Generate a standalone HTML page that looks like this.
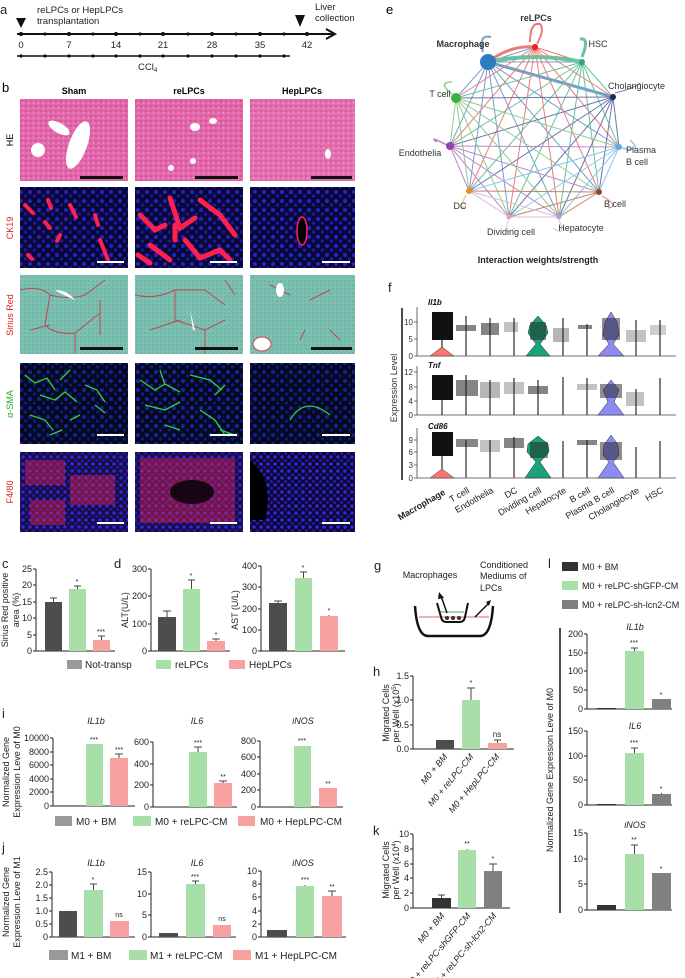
<!DOCTYPE html>
<html><head><meta charset="utf-8"><style>
html,body{margin:0;padding:0;background:#fff}
svg{display:block;font-family:"Liberation Sans",Arial,sans-serif}
</style></head><body>
<svg width="685" height="978" viewBox="0 0 685 978" xmlns="http://www.w3.org/2000/svg">
<defs>
<pattern id="nuc" width="9" height="9" patternUnits="userSpaceOnUse"><circle cx="3" cy="3" r="2" fill="#2a2ae0"/><circle cx="7.5" cy="7" r="1.6" fill="#1f1fb8"/></pattern>
<pattern id="nuc2" width="7" height="7" patternUnits="userSpaceOnUse"><circle cx="2" cy="2" r="1.8" fill="#3030ff"/><circle cx="5.5" cy="5.5" r="1.5" fill="#2020c0"/></pattern>
<pattern id="he" width="5" height="5" patternUnits="userSpaceOnUse"><rect width="5" height="5" fill="#e468aa"/><circle cx="1" cy="1" r="0.8" fill="#b8408f"/><circle cx="3.5" cy="3" r="0.7" fill="#f5a0cc"/><circle cx="4" cy="0.8" r="0.5" fill="#c050a0"/></pattern>
<pattern id="sr" width="4" height="4" patternUnits="userSpaceOnUse"><rect width="4" height="4" fill="#7cc0b2"/><circle cx="1" cy="1" r="0.8" fill="#5fa898"/></pattern>
</defs>

<!-- ===== a ===== -->
<g font-size="9.5" fill="#222">
<text x="0" y="14" font-size="13">a</text>
<polygon points="16,18 26,18 21,28" fill="#111"/>
<polygon points="295,15 305,15 300,27" fill="#111"/>
<text x="37" y="13">reLPCs or HepLPCs</text>
<text x="37" y="24">transplantation</text>
<text x="315" y="10">Liver</text>
<text x="315" y="21">collection</text>
<line x1="17" y1="34" x2="333" y2="34" stroke="#111" stroke-width="2"/>
<polyline points="326,29 335,34 326,39" fill="none" stroke="#111" stroke-width="2"/>
<g fill="#111"><circle cx="21" cy="34" r="2"/><circle cx="45" cy="34" r="1.6"/><circle cx="69" cy="34" r="2"/><circle cx="93" cy="34" r="1.6"/><circle cx="116" cy="34" r="2"/><circle cx="140" cy="34" r="1.6"/><circle cx="163" cy="34" r="2"/><circle cx="188" cy="34" r="1.6"/><circle cx="212" cy="34" r="2"/><circle cx="236" cy="34" r="1.6"/><circle cx="260" cy="34" r="2"/><circle cx="284" cy="34" r="1.6"/><circle cx="307" cy="34" r="2"/></g>
<g text-anchor="middle"><text x="21" y="48">0</text><text x="69" y="48">7</text><text x="116" y="48">14</text><text x="163" y="48">21</text><text x="212" y="48">28</text><text x="260" y="48">35</text><text x="307" y="48">42</text></g>
<line x1="17" y1="56" x2="290" y2="56" stroke="#111" stroke-width="1.5"/>
<g fill="#111"><circle cx="21" cy="56" r="1.6"/><circle cx="45" cy="56" r="1.6"/><circle cx="69" cy="56" r="1.6"/><circle cx="93" cy="56" r="1.6"/><circle cx="116" cy="56" r="1.6"/><circle cx="140" cy="56" r="1.6"/><circle cx="163" cy="56" r="1.6"/><circle cx="188" cy="56" r="1.6"/><circle cx="212" cy="56" r="1.6"/><circle cx="236" cy="56" r="1.6"/><circle cx="260" cy="56" r="1.6"/><circle cx="284" cy="56" r="1.6"/></g>
<text x="138" y="70">CCl<tspan font-size="6" dy="2">4</tspan></text>
</g>

<!-- ===== b ===== -->
<g font-size="9">
<text x="2" y="92" font-size="13">b</text>
<g font-weight="bold" text-anchor="middle"><text x="74" y="94">Sham</text><text x="189" y="94">reLPCs</text><text x="302" y="94">HepLPCs</text></g>
<g text-anchor="middle">
<text transform="translate(13,140) rotate(-90)">HE</text>
<text transform="translate(13,228) rotate(-90)" fill="#e02020">CK19</text>
<text transform="translate(13,315) rotate(-90)" fill="#e02020">Sirius  Red</text>
<text transform="translate(13,404) rotate(-90)" fill="#20b020">α-SMA</text>
<text transform="translate(13,492) rotate(-90)" fill="#e02020">F4/80</text>
</g>
<!-- HE -->
<rect x="20" y="99" width="108" height="82" fill="url(#he)"/>
<rect x="135" y="99" width="108" height="82" fill="url(#he)"/>
<rect x="250" y="99" width="105" height="82" fill="url(#he)" opacity="0.95"/>
<ellipse cx="59" cy="128" rx="12" ry="5" transform="rotate(30 59 128)" fill="#fff"/>
<ellipse cx="78" cy="145" rx="9" ry="25" transform="rotate(20 78 145)" fill="#fff"/>
<ellipse cx="38" cy="150" rx="7" ry="7" fill="#fff"/>
<ellipse cx="195" cy="127" rx="5" ry="4" fill="#fff"/><ellipse cx="213" cy="121" rx="4" ry="3" fill="#fff"/><ellipse cx="193" cy="161" rx="3" ry="3" fill="#fff"/><ellipse cx="171" cy="168" rx="3" ry="3" fill="#fff"/>
<ellipse cx="328" cy="154" rx="3" ry="5" fill="#fff"/>
<rect x="80" y="176" width="43" height="3" fill="#111"/><rect x="195" y="176" width="43" height="3" fill="#111"/><rect x="311" y="176" width="41" height="3" fill="#111"/>
<!-- CK19 -->
<rect x="20" y="187" width="108" height="81" fill="#0a0838"/><rect x="20" y="187" width="108" height="81" fill="url(#nuc)" opacity="0.8"/>
<rect x="135" y="187" width="108" height="81" fill="#0a0838"/><rect x="135" y="187" width="108" height="81" fill="url(#nuc)" opacity="0.8"/>
<rect x="250" y="187" width="105" height="81" fill="#0a0838"/><rect x="250" y="187" width="105" height="81" fill="url(#nuc)" opacity="0.85"/>
<g stroke="#ff2050" stroke-linecap="round" fill="none">
<path d="M25 205 l8 8 M48 200 l3 8 M70 205 l6 12 M45 222 l5 6 M60 235 l-3 6 M95 215 l3 10 M100 240 l8 20 M28 255 l4 4" stroke-width="4"/>
<path d="M140 215 l15 15 l10 -5 M170 198 l10 30 l15 -10 M200 200 l20 15 l15 20 M150 245 l20 15 M185 240 l15 18 l20 -8 M138 255 l12 8 M220 250 l10 10 M175 225 l0 15" stroke-width="5"/>
</g>
<ellipse cx="302" cy="231" rx="5" ry="14" fill="#000" stroke="#ff2070" stroke-width="1.5"/>
<rect x="97" y="261" width="27" height="2" fill="#fff"/><rect x="210" y="261" width="27" height="2" fill="#fff"/><rect x="322" y="261" width="28" height="2" fill="#fff"/>
<!-- Sirius -->
<rect x="20" y="275" width="108" height="79" fill="url(#sr)"/>
<rect x="135" y="275" width="108" height="79" fill="url(#sr)"/>
<rect x="250" y="275" width="105" height="79" fill="url(#sr)"/>
<g stroke="#d03040" stroke-width="1" fill="none" opacity="0.85">
<path d="M20 290 q20 -5 30 5 q20 5 35 0 l20 -15 M50 295 l-5 30 q10 10 30 8 l25 -20 M75 333 l0 20 M30 330 l20 -5 M100 300 l0 35"/>
<path d="M135 295 q20 5 40 -5 l30 0 l20 15 M175 290 l0 30 l30 10 l20 -10 M150 330 l30 -10 M205 330 l0 24 M225 280 l10 15"/>
<path d="M270 285 l20 10 M310 300 l20 -10 M330 330 l10 10 M300 340 l5 -10"/>
</g>
<path d="M55 290 q12 0 20 10 q-12 -5 -20 -10z" fill="#fff"/><path d="M190 310 l5 20 l-2 0z" fill="#fff"/>
<ellipse cx="262" cy="344" rx="9" ry="7" fill="#fff" stroke="#d04050"/><ellipse cx="280" cy="290" rx="4" ry="7" fill="#fff"/>
<rect x="80" y="347" width="43" height="3" fill="#111"/><rect x="195" y="347" width="43" height="3" fill="#111"/><rect x="311" y="347" width="41" height="3" fill="#111"/>
<!-- a-SMA -->
<rect x="20" y="363" width="108" height="81" fill="#040a20"/><rect x="20" y="363" width="108" height="81" fill="url(#nuc)" opacity="0.6"/>
<rect x="135" y="363" width="108" height="81" fill="#040a20"/><rect x="135" y="363" width="108" height="81" fill="url(#nuc)" opacity="0.7"/>
<rect x="250" y="363" width="105" height="81" fill="#040a20"/><rect x="250" y="363" width="105" height="81" fill="url(#nuc)" opacity="0.6"/>
<g stroke="#30d040" stroke-width="1.3" fill="none">
<path d="M25 375 l10 8 l12 -5 l8 12 M40 395 l15 5 l10 -8 l12 10 M60 380 l10 -10 M85 385 l12 5 l8 12 M30 415 l15 5 l8 10 M70 420 l10 -5 M95 405 l10 8 M50 435 l12 -5"/>
<path d="M140 380 l15 10 l10 -6 l15 8 M160 370 l5 15 M190 375 l20 5 l12 10 M145 405 l20 5 l15 -8 M200 410 l15 10 l10 15 M165 425 l15 5 M215 395 l10 -10 M220 430 l15 5"/>
<path d="M290 420 q15 -25 40 -5"/>
</g>
<rect x="97" y="434" width="27" height="2" fill="#fff"/><rect x="210" y="434" width="27" height="2" fill="#fff"/><rect x="322" y="434" width="28" height="2" fill="#fff"/>
<!-- F4/80 -->
<rect x="20" y="452" width="108" height="80" fill="#1a0c40"/><rect x="20" y="452" width="108" height="80" fill="url(#nuc2)" opacity="0.8"/>
<rect x="135" y="452" width="108" height="80" fill="#1a0c40"/><rect x="135" y="452" width="108" height="80" fill="url(#nuc2)" opacity="0.8"/>
<rect x="250" y="452" width="105" height="80" fill="#100830"/><rect x="250" y="452" width="105" height="80" fill="url(#nuc2)" opacity="0.85"/>
<g fill="#e02050" opacity="0.45"><rect x="25" y="460" width="40" height="25"/><rect x="70" y="475" width="45" height="30"/><rect x="30" y="500" width="35" height="25"/><rect x="140" y="458" width="95" height="65"/></g>
<ellipse cx="192" cy="492" rx="22" ry="12" fill="#000" opacity="0.8"/>
<path d="M250 460 q25 20 15 60 l-15 0z" fill="#000"/>
<rect x="97" y="522" width="27" height="2" fill="#fff"/><rect x="210" y="522" width="27" height="2" fill="#fff"/><rect x="322" y="522" width="28" height="2" fill="#fff"/>
</g>

<!-- ===== e ===== -->
<g font-size="9">
<text x="386" y="14" font-size="13">e</text>
<g fill="none" stroke-width="1" opacity="0.7">
<g stroke="#3a78b5"><path d="M488 62L535 47M488 62L582 62M488 62L613 97M488 62L619 147M488 62L599 192M488 62L559 217M488 62L509 217M488 62L469 191M488 62L450 146M488 62L456 98"/><path d="M488 62L613 97" stroke-width="3"/></g>
<g stroke="#e8423f"><path d="M535 47L582 62M535 47L613 97M535 47L619 147M535 47L599 192M535 47L559 217M535 47L509 217M535 47L469 191M535 47L450 146M535 47L456 98"/><path d="M535 47Q510 45 488 62" stroke-width="3"/></g>
<g stroke="#2ea877"><path d="M582 62L613 97M582 62L619 147M582 62L599 192M582 62L559 217M582 62L509 217M582 62L469 191M582 62L450 146M582 62L456 98"/><path d="M582 62Q535 52 488 62" stroke-width="4"/></g>
<g stroke="#2c3e80"><path d="M613 97L619 147M613 97L599 192M613 97L559 217M613 97L509 217M613 97L469 191M613 97L450 146M613 97L456 98"/></g>
<g stroke="#5cb85c"><path d="M456 98L619 147M456 98L599 192M456 98L559 217M456 98L509 217M456 98L469 191M456 98L450 146"/></g>
<g stroke="#9b59b6"><path d="M450 146L619 147M450 146L599 192M450 146L559 217M450 146L509 217M450 146L469 191"/></g>
<g stroke="#5dade2"><path d="M619 147L599 192M619 147L559 217M619 147L509 217M619 147L469 191"/></g>
<g stroke="#a0522d"><path d="M599 192L559 217M599 192L509 217M599 192L469 191"/></g>
<g stroke="#c8a2c8"><path d="M559 217L509 217M559 217L469 191M509 217L469 191"/></g>
<path d="M483 52 q-5 -18 8 -15" stroke="#3a78b5" stroke-width="2"/>
<path d="M530 42 q0 -20 10 -18 q5 5 -3 20" stroke="#e8423f" stroke-width="2"/>
<path d="M582 57 q8 -20 -2 -18" stroke="#2ea877" stroke-width="3"/>
<path d="M452 94 q-15 -12 0 -12" stroke="#5cb85c" stroke-width="1.5"/>
<path d="M447 145 q-20 -10 -10 -3" stroke="#9b59b6" stroke-width="1.5"/>
<path d="M622 148 q22 5 8 -8" stroke="#5dade2" stroke-width="1.5"/>
<path d="M602 196 q18 10 6 12" stroke="#a0522d" stroke-width="1"/>
<path d="M466 195 q-10 20 0 10" stroke="#e8a040" stroke-width="1"/>
<path d="M509 220 q-8 18 6 8" stroke="#e89fc8" stroke-width="1"/>
<path d="M559 220 q8 18 -6 8" stroke="#c8a2c8" stroke-width="1"/>
<path d="M615 93 q20 -5 25 -10" stroke="#2c3e80" stroke-width="1"/>
</g>
<circle cx="488" cy="62" r="8" fill="#2f7bbf"/>
<circle cx="535" cy="47" r="3" fill="#e82020"/>
<circle cx="582" cy="62" r="3" fill="#2ea877"/>
<circle cx="613" cy="97" r="3" fill="#1a2a6a"/>
<circle cx="619" cy="147" r="3" fill="#5dade2"/>
<circle cx="599" cy="192" r="3" fill="#8b4a2a"/>
<circle cx="559" cy="217" r="2.5" fill="#b8a0d0"/>
<circle cx="509" cy="217" r="2.5" fill="#e89fc8"/>
<circle cx="469" cy="191" r="3" fill="#f08a20"/>
<circle cx="450" cy="146" r="4" fill="#8e44ad"/>
<circle cx="456" cy="98" r="5" fill="#3cb043"/>
<g fill="#333">
<text x="536" y="21" text-anchor="middle" font-weight="bold">reLPCs</text>
<text x="463" y="47" text-anchor="middle" font-weight="bold">Macrophage</text>
<text x="598" y="47" text-anchor="middle">HSC</text>
<text x="608" y="89">Cholangiocyte</text>
<text x="440" y="97" text-anchor="middle">T cell</text>
<text x="420" y="156" text-anchor="middle">Endothelia</text>
<text x="626" y="153">Plasma</text><text x="626" y="165">B cell</text>
<text x="460" y="209" text-anchor="middle">DC</text>
<text x="615" y="207" text-anchor="middle">B cell</text>
<text x="511" y="235" text-anchor="middle">Dividing cell</text>
<text x="581" y="231" text-anchor="middle">Hepatocyte</text>
<text x="538" y="263" text-anchor="middle" font-weight="bold" fill="#222">Interaction weights/strength</text>
</g>
</g>

<!-- ===== f ===== -->
<g font-size="8" fill="#333">
<text x="388" y="292" font-size="13" fill="#222">f</text>
<line x1="402" y1="308" x2="402" y2="480" stroke="#111" stroke-width="1.5"/>
<text transform="translate(397,388) rotate(-90)" text-anchor="middle" font-size="9">Expression Level</text>
<g stroke="#444" stroke-width="0.8" fill="none">
<path d="M417 307V356H676M417 366V415H676M417 428V478H676"/>
<path d="M414 322h3M414 339h3M414 356h3M414 372h3M414 387h3M414 401h3M414 415h3M414 440h3M414 452h3M414 465h3M414 478h3"/>
</g>
<g text-anchor="end"><text x="413" y="325">10</text><text x="413" y="342">5</text><text x="413" y="359">0</text>
<text x="413" y="375">12</text><text x="413" y="390">8</text><text x="413" y="404">4</text><text x="413" y="418">0</text>
<text x="413" y="443">9</text><text x="413" y="455">6</text><text x="413" y="468">3</text><text x="413" y="481">0</text></g>
<g font-weight="bold" font-style="italic" fill="#111"><text x="428" y="305">Il1b</text><text x="428" y="368">Tnf</text><text x="428" y="429">Cd86</text></g>
<g stroke="#555" stroke-width="1.5">
<path d="M466 316V356M490 318V356M514 318V356M563 318V356M587 324V356M636 320V356M660 320V356"/>
<path d="M466 375V415M490 380V415M514 378V415M538 380V415M563 377V415M587 378V415M636 389V415M660 378V415"/>
<path d="M466 440V478M490 440V478M514 437V478M563 441V478M587 440V478M636 447V478M660 441V478"/>
<path d="M442 340V356M442 400V415M442 455V478M538 345V356M611 345V356M611 395V415M538 460V478M611 460V478"/>
</g>
<g fill="#111">
<rect x="432" y="312" width="21" height="28"/><rect x="432" y="375" width="21" height="25"/><rect x="432" y="432" width="21" height="24"/>
</g>
<g fill="#222" opacity="0.55">
<rect x="456" y="325" width="20" height="6"/><rect x="481" y="323" width="18" height="12"/><rect x="504" y="322" width="14" height="10" opacity="0.5"/><rect x="553" y="328" width="16" height="14" opacity="0.6"/><rect x="578" y="325" width="14" height="4"/><rect x="626" y="330" width="20" height="12" opacity="0.5"/><rect x="650" y="325" width="16" height="10" opacity="0.4"/>
<rect x="456" y="380" width="22" height="16"/><rect x="480" y="382" width="20" height="16" opacity="0.6"/><rect x="504" y="382" width="20" height="12" opacity="0.5"/><rect x="528" y="386" width="20" height="8"/><rect x="577" y="384" width="20" height="6" opacity="0.5"/><rect x="626" y="392" width="18" height="14" opacity="0.5"/>
<rect x="456" y="439" width="22" height="8"/><rect x="480" y="440" width="20" height="12" opacity="0.5"/><rect x="504" y="438" width="20" height="10"/><rect x="577" y="440" width="20" height="5"/>
</g>
<polygon points="430,356 442,347 454,356" fill="#f8766d" stroke="#333" stroke-width="0.5"/>
<polygon points="430,478 442,469 454,478" fill="#f8766d" stroke="#333" stroke-width="0.5"/>
<path d="M538 316 L546 325 L548 333 L540 344 L550 356 L526 356 L536 344 L528 333 L530 325Z" fill="#1aa37a" stroke="#222" stroke-width="0.5"/>
<path d="M538 436 L548 444 L549 452 L540 462 L551 478 L525 478 L536 462 L527 452 L528 444Z" fill="#1aa37a" stroke="#222" stroke-width="0.5"/>
<path d="M611 312 L617 322 L619 335 L613 344 L624 356 L598 356 L609 344 L603 335 L605 322Z" fill="#8c8cf0" stroke="#222" stroke-width="0.5"/>
<path d="M611 380 L619 390 L614 402 L624 415 L598 415 L608 402 L603 390Z" fill="#8c8cf0" stroke="#222" stroke-width="0.5"/>
<path d="M611 435 L618 445 L619 455 L613 462 L624 478 L598 478 L609 462 L603 455 L604 445Z" fill="#8c8cf0" stroke="#222" stroke-width="0.5"/>
<g fill="#222" opacity="0.5"><rect x="530" y="322" width="16" height="18"/><rect x="530" y="442" width="18" height="16"/><rect x="602" y="318" width="18" height="22"/><rect x="600" y="384" width="22" height="14"/><rect x="600" y="442" width="22" height="18"/></g>
<g font-size="9" text-anchor="end" fill="#222">
<text transform="translate(446,494) rotate(-30)" font-weight="bold">Macrophage</text>
<text transform="translate(470,492) rotate(-30)">T cell</text>
<text transform="translate(494,492) rotate(-30)">Endothelia</text>
<text transform="translate(518,492) rotate(-30)">DC</text>
<text transform="translate(542,492) rotate(-30)">Dividing cell</text>
<text transform="translate(567,492) rotate(-30)">Hepatocyte</text>
<text transform="translate(591,492) rotate(-30)">B cell</text>
<text transform="translate(615,492) rotate(-30)">Plasma B cell</text>
<text transform="translate(640,492) rotate(-30)">Cholangiocyte</text>
<text transform="translate(664,492) rotate(-30)">HSC</text>
</g>
</g>

<!-- ===== c, d ===== -->
<g font-size="9" fill="#222">
<text x="2" y="568" font-size="13">c</text>
<text x="114" y="568" font-size="13">d</text>
<g stroke="#222" stroke-width="1" fill="none">
<path d="M36 569V651H115M33 569h3M33 585h3M33 602h3M33 618h3M33 635h3M33 651h3"/>
<path d="M151 569V651H230M148 569h3M148 596h3M148 624h3M148 651h3"/>
<path d="M261 566V651H345M258 566h3M258 587h3M258 609h3M258 630h3M258 651h3"/>
</g>
<g text-anchor="end"><text x="32" y="572">25</text><text x="32" y="588">20</text><text x="32" y="605">15</text><text x="32" y="621">10</text><text x="32" y="638">5</text><text x="32" y="654">0</text>
<text x="147" y="572">300</text><text x="147" y="599">200</text><text x="147" y="627">100</text><text x="147" y="654">0</text>
<text x="257" y="569">400</text><text x="257" y="590">300</text><text x="257" y="612">200</text><text x="257" y="633">100</text><text x="257" y="654">0</text></g>
<text transform="translate(8,610) rotate(-90)" text-anchor="middle">Sirius Red positive</text>
<text transform="translate(19,610) rotate(-90)" text-anchor="middle">area (%)</text>
<text transform="translate(128,610) rotate(-90)" text-anchor="middle">ALT(U/L)</text>
<text transform="translate(238,610) rotate(-90)" text-anchor="middle">AST (U/L)</text>
<rect x="45" y="602" width="17" height="49" fill="#4d4d4d"/><rect x="69" y="589" width="17" height="62" fill="#a8dea8"/><rect x="93" y="640" width="17" height="11" fill="#f7a1a1"/>
<rect x="158" y="617" width="18" height="34" fill="#4d4d4d"/><rect x="183" y="589" width="17" height="62" fill="#a8dea8"/><rect x="207" y="641" width="18" height="10" fill="#f7a1a1"/>
<rect x="269" y="603" width="18" height="48" fill="#4d4d4d"/><rect x="295" y="578" width="17" height="73" fill="#a8dea8"/><rect x="320" y="616" width="18" height="35" fill="#f7a1a1"/>
<g stroke="#444" stroke-width="1"><path d="M53.5 602V598M50 598h7M77.5 589V586M74 586h7M101.5 640V636M98 636h7M167 617V611M163 611h8M191.5 589V580M188 580h7M216 641V639M212 639h8M278 603V601M274 601h8M303.5 578V572M300 572h7M329 616V615"/></g>
<g text-anchor="middle" font-size="7"><text x="77" y="584">*</text><text x="101" y="634">***</text><text x="191" y="578">*</text><text x="216" y="637">*</text><text x="303" y="570">*</text><text x="329" y="613">*</text></g>
<rect x="67" y="660" width="15" height="9" fill="#999"/><text x="85" y="668" font-size="10">Not-transp</text>
<rect x="156" y="660" width="15" height="9" fill="#a8dea8"/><text x="175" y="668" font-size="10">reLPCs</text>
<rect x="229" y="660" width="16" height="9" fill="#f7a1a1"/><text x="249" y="668" font-size="10">HepLPCs</text>
</g>

<!-- ===== i ===== -->
<g font-size="9" fill="#222">
<text x="2" y="718" font-size="13">i</text>
<text transform="translate(9,772) rotate(-90)" text-anchor="middle">Normalized Gene</text>
<text transform="translate(20,772) rotate(-90)" text-anchor="middle">Expression Leve of M0</text>
<g font-style="italic" text-anchor="middle"><text x="96" y="724">IL1b</text><text x="197" y="724">IL6</text><text x="303" y="724">iNOS</text></g>
<g stroke="#222" fill="none">
<path d="M53 738V806H135M50 738h3M50 752h3M50 765h3M50 779h3M50 792h3M50 806h3"/>
<path d="M153 742V807H237M150 742h3M150 764h3M150 785h3M150 807h3"/>
<path d="M260 741V807H343M257 741h3M257 757h3M257 774h3M257 790h3M257 807h3"/>
</g>
<g text-anchor="end"><text x="49" y="741">10000</text><text x="49" y="755">8000</text><text x="49" y="768">6000</text><text x="49" y="782">4000</text><text x="49" y="795">2000</text><text x="49" y="809">0</text>
<text x="149" y="745">600</text><text x="149" y="767">400</text><text x="149" y="788">200</text><text x="149" y="810">0</text>
<text x="256" y="744">800</text><text x="256" y="760">600</text><text x="256" y="777">400</text><text x="256" y="793">200</text><text x="256" y="810">0</text></g>
<rect x="86" y="744" width="17" height="62" fill="#a8dea8"/><rect x="110" y="758" width="18" height="48" fill="#f7a1a1"/>
<rect x="189" y="752" width="18" height="55" fill="#a8dea8"/><rect x="214" y="783" width="18" height="24" fill="#f7a1a1"/>
<rect x="294" y="746" width="17" height="61" fill="#a8dea8"/><rect x="319" y="788" width="18" height="19" fill="#f7a1a1"/>
<g stroke="#444"><path d="M119 758V754M115 754h8M198 752V747M194 747h8M223 783V781M219 781h8"/></g>
<g text-anchor="middle" font-size="7"><text x="94" y="742">***</text><text x="119" y="752">***</text><text x="198" y="745">***</text><text x="223" y="779">**</text><text x="302" y="743">***</text><text x="328" y="786">**</text></g>
<rect x="55" y="816" width="17" height="10" fill="#999"/><text x="76" y="825" font-size="10">M0 + BM</text>
<rect x="133" y="816" width="18" height="10" fill="#a8dea8"/><text x="155" y="825" font-size="10">M0 + reLPC-CM</text>
<rect x="238" y="816" width="17" height="10" fill="#f7a1a1"/><text x="260" y="825" font-size="10">M0 + HepLPC-CM</text>
</g>

<!-- ===== j ===== -->
<g font-size="9" fill="#222">
<text x="2" y="852" font-size="13">j</text>
<text transform="translate(9,902) rotate(-90)" text-anchor="middle">Normalized Gene</text>
<text transform="translate(20,902) rotate(-90)" text-anchor="middle">Expression Leve of M1</text>
<g font-style="italic" text-anchor="middle"><text x="96" y="866">IL1b</text><text x="197" y="866">IL6</text><text x="303" y="866">iNOS</text></g>
<g stroke="#222" fill="none">
<path d="M52 872V937H135M49 872h3M49 885h3M49 898h3M49 911h3M49 924h3M49 937h3"/>
<path d="M151 872V937H236M148 872h3M148 894h3M148 915h3M148 937h3"/>
<path d="M261 871V937H346M258 871h3M258 884h3M258 897h3M258 911h3M258 924h3M258 937h3"/>
</g>
<g text-anchor="end"><text x="48" y="875">2.5</text><text x="48" y="888">2.0</text><text x="48" y="901">1.5</text><text x="48" y="914">1.0</text><text x="48" y="927">0.5</text><text x="48" y="940">0</text>
<text x="147" y="875">15</text><text x="147" y="897">10</text><text x="147" y="918">5</text><text x="147" y="940">0</text>
<text x="257" y="874">10</text><text x="257" y="887">8</text><text x="257" y="900">6</text><text x="257" y="914">4</text><text x="257" y="927">2</text><text x="257" y="940">0</text></g>
<rect x="59" y="911" width="18" height="26" fill="#4d4d4d"/><rect x="84" y="890" width="19" height="47" fill="#a8dea8"/><rect x="110" y="921" width="19" height="16" fill="#f7a1a1"/>
<rect x="159" y="933" width="19" height="4" fill="#4d4d4d"/><rect x="186" y="884" width="19" height="53" fill="#a8dea8"/><rect x="213" y="925" width="18" height="12" fill="#f7a1a1"/>
<rect x="267" y="930" width="20" height="7" fill="#4d4d4d"/><rect x="296" y="886" width="18" height="51" fill="#a8dea8"/><rect x="322" y="896" width="20" height="41" fill="#f7a1a1"/>
<g stroke="#444"><path d="M93.5 890V884M90 884h7M195.5 884V881M192 881h7M305 886V885M332 896V891M328 891h8"/></g>
<g text-anchor="middle" font-size="7"><text x="93" y="882">*</text><text x="119" y="917">ns</text><text x="195" y="879">***</text><text x="222" y="921">ns</text><text x="305" y="882">***</text><text x="332" y="889">**</text></g>
<rect x="49" y="950" width="19" height="10" fill="#999"/><text x="71" y="959" font-size="10">M1 + BM</text>
<rect x="129" y="950" width="18" height="10" fill="#a8dea8"/><text x="150" y="959" font-size="10">M1 + reLPC-CM</text>
<rect x="233" y="950" width="18" height="10" fill="#f7a1a1"/><text x="255" y="959" font-size="10">M1 + HepLPC-CM</text>
</g>

<!-- ===== g ===== -->
<g font-size="9" fill="#222">
<text x="374" y="570" font-size="13">g</text>
<text x="430" y="578" text-anchor="middle">Macrophages</text>
<text x="480" y="568">Conditioned</text><text x="480" y="579">Mediums of</text><text x="480" y="591">LPCs</text>
<path d="M415 606 Q417 636 428 636 L480 636 Q491 636 493 606" fill="none" stroke="#111" stroke-width="2.5"/>
<line x1="419" y1="617" x2="489" y2="617" stroke="#f08080" stroke-width="1.2"/>
<line x1="440" y1="612" x2="464" y2="612" stroke="#80c890" stroke-width="1.5"/>
<path d="M437 603 L441 617 Q442 622 446 622 L460 622 Q464 622 465 617 L468 603" fill="none" stroke="#111" stroke-width="2"/>
<circle cx="447" cy="618" r="2" fill="#333"/><circle cx="453" cy="618" r="2" fill="#333"/><circle cx="459" cy="618" r="2" fill="#333"/>
<line x1="447" y1="613" x2="441" y2="596" stroke="#111" stroke-width="1.5"/><polygon points="439,592 444,598 438,599" fill="#111"/>
<line x1="475" y1="617" x2="489" y2="603" stroke="#111" stroke-width="1.5"/><polygon points="491,600 486,602 489,606" fill="#111"/>
</g>

<!-- ===== h ===== -->
<g font-size="9" fill="#222">
<text x="373" y="676" font-size="13">h</text>
<text transform="translate(389,713) rotate(-90)" text-anchor="middle">Migrated Cells</text>
<text transform="translate(399,713) rotate(-90)" text-anchor="middle">per Well (x10<tspan font-size="6" dy="-3">5</tspan><tspan dy="3">)</tspan></text>
<path d="M413 676V749H514M410 676h3M410 700h3M410 725h3M410 749h3" stroke="#222" fill="none"/>
<g text-anchor="end"><text x="409" y="679">1.5</text><text x="409" y="703">1.0</text><text x="409" y="728">0.5</text><text x="409" y="752">0.0</text></g>
<rect x="436" y="740" width="18" height="9" fill="#4d4d4d"/><rect x="462" y="700" width="18" height="49" fill="#a8dea8"/><rect x="488" y="743" width="19" height="6" fill="#f7a1a1"/>
<g stroke="#444"><path d="M471 700V688M467 688h8M497.5 743V740M494 740h7"/></g>
<g text-anchor="middle" font-size="7"><text x="471" y="685">*</text><text x="497" y="737" font-size="8">ns</text></g>
<g text-anchor="end" font-style="italic"><text transform="translate(448,757) rotate(-50)">M0 + BM</text><text transform="translate(474,757) rotate(-50)">M0 + reLPC-CM</text><text transform="translate(500,757) rotate(-50)">M0 + HepLPC-CM</text></g>
</g>

<!-- ===== k ===== -->
<g font-size="9" fill="#222">
<text x="373" y="835" font-size="13">k</text>
<text transform="translate(389,870) rotate(-90)" text-anchor="middle">Migrated Cells</text>
<text transform="translate(399,870) rotate(-90)" text-anchor="middle">per Well (x10<tspan font-size="6" dy="-3">4</tspan><tspan dy="3">)</tspan></text>
<path d="M413 834V908H510M410 834h3M410 849h3M410 864h3M410 878h3M410 893h3M410 908h3" stroke="#222" fill="none"/>
<g text-anchor="end"><text x="409" y="837">10</text><text x="409" y="852">8</text><text x="409" y="867">6</text><text x="409" y="881">4</text><text x="409" y="896">2</text><text x="409" y="911">0</text></g>
<rect x="432" y="898" width="19" height="10" fill="#333"/><rect x="458" y="850" width="18" height="58" fill="#a8dea8"/><rect x="484" y="871" width="18" height="37" fill="#808080"/>
<g stroke="#444"><path d="M441.5 898V895M438 895h7M467 850V849M493 871V864M489 864h8"/></g>
<g text-anchor="middle" font-size="7"><text x="467" y="846">**</text><text x="493" y="861">*</text></g>
<g text-anchor="end" font-style="italic"><text transform="translate(445,916) rotate(-50)">M0 + BM</text><text transform="translate(471,916) rotate(-50)">M0 + reLPC-shGFP-CM</text><text transform="translate(497,916) rotate(-50)">M0 + reLPC-sh-lcn2-CM</text></g>
</g>

<!-- ===== l ===== -->
<g font-size="9" fill="#222">
<text x="548" y="568" font-size="13">l</text>
<rect x="562" y="562" width="16" height="9" fill="#333"/><text x="582" y="570">M0 + BM</text>
<rect x="562" y="581" width="16" height="9" fill="#a8dea8"/><text x="582" y="589">M0 + reLPC-shGFP-CM</text>
<rect x="562" y="600" width="16" height="9" fill="#808080"/><text x="582" y="608">M0 + reLPC-sh-lcn2-CM</text>
<line x1="560" y1="628" x2="560" y2="913" stroke="#111" stroke-width="1.5"/>
<text transform="translate(553,770) rotate(-90)" text-anchor="middle">Normalized Gene  Expression Leve of M0</text>
<g font-style="italic" text-anchor="middle"><text x="635" y="630">IL1b</text><text x="635" y="729">IL6</text><text x="635" y="828">iNOS</text></g>
<g stroke="#222" fill="none">
<path d="M587 634V709H672M584 634h3M584 653h3M584 671h3M584 690h3M584 709h3"/>
<path d="M587 731V805H672M584 731h3M584 756h3M584 780h3M584 805h3"/>
<path d="M587 833V910H672M584 833h3M584 859h3M584 884h3M584 910h3"/>
</g>
<g text-anchor="end"><text x="583" y="637">200</text><text x="583" y="656">150</text><text x="583" y="674">100</text><text x="583" y="693">50</text><text x="583" y="712">0</text>
<text x="583" y="734">150</text><text x="583" y="759">100</text><text x="583" y="783">50</text><text x="583" y="808">0</text>
<text x="583" y="836">15</text><text x="583" y="862">10</text><text x="583" y="887">5</text><text x="583" y="913">0</text></g>
<rect x="597" y="708" width="19" height="1" fill="#333"/><rect x="625" y="651" width="19" height="58" fill="#a8dea8"/><rect x="652" y="699" width="19" height="10" fill="#808080"/>
<rect x="597" y="804" width="19" height="1" fill="#333"/><rect x="625" y="753" width="19" height="52" fill="#a8dea8"/><rect x="652" y="794" width="19" height="11" fill="#808080"/>
<rect x="597" y="905" width="19" height="5" fill="#333"/><rect x="625" y="854" width="19" height="56" fill="#a8dea8"/><rect x="652" y="873" width="19" height="37" fill="#808080"/>
<g stroke="#444"><path d="M634.5 651V648M631 648h7M634.5 753V748M631 748h7M634.5 854V845M631 845h7M661.5 794V793"/></g>
<g text-anchor="middle" font-size="7"><text x="634" y="645">***</text><text x="661" y="697">*</text><text x="634" y="745">***</text><text x="661" y="791">*</text><text x="634" y="842">**</text><text x="661" y="871">*</text></g>
</g>
</svg>
</body></html>
